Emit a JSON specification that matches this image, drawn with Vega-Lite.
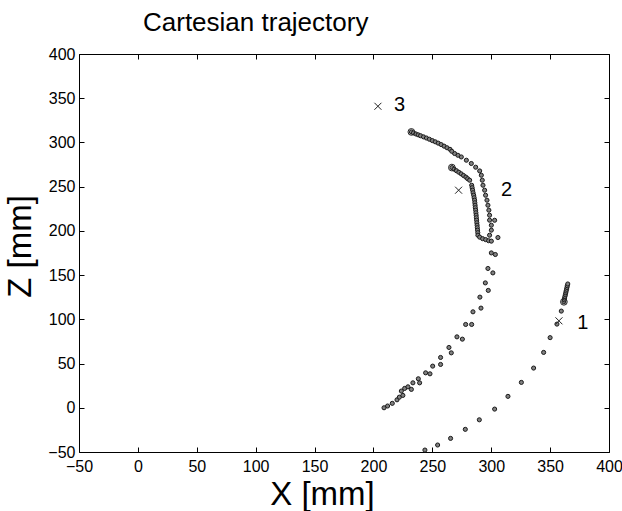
{
  "$schema": "https://vega.github.io/schema/vega-lite/v6.json",
  "width": 530,
  "height": 398,
  "autosize": {"type": "none"},
  "padding": {"left": 79, "top": 54, "right": 13, "bottom": 59},
  "background": "white",
  "config": {
    "view": {"stroke": "black", "strokeWidth": 1},
    "font": "Liberation Sans"
  },
  "title": {
    "text": "Cartesian trajectory",
    "fontSize": 26,
    "fontWeight": "normal",
    "font": "Liberation Sans",
    "color": "black",
    "anchor": "start",
    "frame": "group",
    "dx": 64,
    "offset": 10
  },
  "datasets": {
    "dots": [
      {"x": 243.7, "y": -47.8}, {"x": 254.5, "y": -42.1}, {"x": 265.5, "y": -34.6}, {"x": 278, "y": -24.4},
      {"x": 289.9, "y": -13.6}, {"x": 302.9, "y": -1.5}, {"x": 314.2, "y": 12.9}, {"x": 325.6, "y": 28.7},
      {"x": 336, "y": 44.9}, {"x": 344.5, "y": 62.6}, {"x": 350, "y": 79.3}, {"x": 355.8, "y": 94.6},
      {"x": 359.5, "y": 109.3}, {"x": 361.7, "y": 119.8}, {"x": 362, "y": 122}, {"x": 362.3, "y": 124},
      {"x": 362.6, "y": 126}, {"x": 363, "y": 128}, {"x": 363.3, "y": 130}, {"x": 363.6, "y": 132},
      {"x": 364, "y": 134}, {"x": 364.3, "y": 136}, {"x": 364.6, "y": 138}, {"x": 365, "y": 140},
      {"x": 209, "y": 0}, {"x": 212, "y": 2}, {"x": 216, "y": 5}, {"x": 220, "y": 9}, {"x": 222, "y": 12},
      {"x": 225, "y": 14}, {"x": 223.7, "y": 18.9}, {"x": 226.5, "y": 21.9}, {"x": 229.3, "y": 23.7},
      {"x": 232.2, "y": 20.8}, {"x": 233.5, "y": 28.2}, {"x": 238.1, "y": 32.8}, {"x": 239.2, "y": 28.2},
      {"x": 244.3, "y": 39.5}, {"x": 248, "y": 38.4}, {"x": 250.3, "y": 47.1}, {"x": 257, "y": 49},
      {"x": 257, "y": 56.9}, {"x": 266.1, "y": 62.1}, {"x": 264.1, "y": 68.2}, {"x": 270.9, "y": 80.2},
      {"x": 275.5, "y": 77.6}, {"x": 278.3, "y": 94.2}, {"x": 283.4, "y": 94.2}, {"x": 284.5, "y": 108.5},
      {"x": 291.3, "y": 112.7}, {"x": 290.4, "y": 125.1}, {"x": 297.5, "y": 132.7}, {"x": 295, "y": 141.2},
      {"x": 301.4, "y": 152.5}, {"x": 297.2, "y": 157.5}, {"x": 303.5, "y": 173.3}, {"x": 300.1, "y": 175.1},
      {"x": 266.6, "y": 271.6}, {"x": 268.5, "y": 269.8}, {"x": 270.5, "y": 268}, {"x": 272.5, "y": 266.3},
      {"x": 274.5, "y": 264.5}, {"x": 276.5, "y": 262.6}, {"x": 278.5, "y": 260.8}, {"x": 280, "y": 259},
      {"x": 281.7, "y": 257.3}, {"x": 283.4, "y": 251.6}, {"x": 283.8, "y": 248.8}, {"x": 284.2, "y": 246},
      {"x": 284.6, "y": 243.1}, {"x": 285.1, "y": 240.3}, {"x": 285.5, "y": 237.5}, {"x": 285.9, "y": 234.7},
      {"x": 286.1, "y": 231.8}, {"x": 286.3, "y": 229}, {"x": 286.5, "y": 226.2}, {"x": 286.8, "y": 223.4},
      {"x": 287, "y": 220.5}, {"x": 287.2, "y": 217.7}, {"x": 287.4, "y": 214.9}, {"x": 287.6, "y": 212.1},
      {"x": 287.8, "y": 209.2}, {"x": 288, "y": 206.4}, {"x": 288.2, "y": 203.6}, {"x": 288.4, "y": 200.8},
      {"x": 288.6, "y": 198}, {"x": 288.7, "y": 195.1}, {"x": 290.2, "y": 192.9}, {"x": 292.7, "y": 191.2},
      {"x": 295.3, "y": 190.1}, {"x": 297.8, "y": 188.9}, {"x": 300.1, "y": 188.4},
      {"x": 298.6, "y": 195.1}, {"x": 300.1, "y": 200.8}, {"x": 300.1, "y": 206.4}, {"x": 298.6, "y": 212.1},
      {"x": 298.6, "y": 217.7}, {"x": 298, "y": 223.4}, {"x": 297.2, "y": 229}, {"x": 296.4, "y": 234.7},
      {"x": 295.2, "y": 240.3}, {"x": 294.4, "y": 246}, {"x": 293, "y": 251.6}, {"x": 292.4, "y": 257.3},
      {"x": 291.6, "y": 262.9}, {"x": 290.2, "y": 267.8}, {"x": 302.9, "y": 212}, {"x": 305.7, "y": 192.5},
      {"x": 286.8, "y": 272}, {"x": 283.1, "y": 276.2}, {"x": 278.9, "y": 279.9}, {"x": 274.6, "y": 283.6},
      {"x": 271.7, "y": 285.5}, {"x": 268.9, "y": 287.5},
      {"x": 232.2, "y": 311.9}, {"x": 234, "y": 310.8}, {"x": 236, "y": 309.6}, {"x": 238, "y": 308.6},
      {"x": 240, "y": 307.6}, {"x": 242.5, "y": 306.3}, {"x": 245, "y": 305}, {"x": 247.5, "y": 303.6},
      {"x": 250, "y": 302.1}, {"x": 252.5, "y": 300.7}, {"x": 255, "y": 299.2}, {"x": 257.5, "y": 297.6},
      {"x": 260, "y": 295.8}, {"x": 262.5, "y": 294}, {"x": 265, "y": 292.2}, {"x": 266.5, "y": 290}
    ],
    "starts": [
      {"x": 232.2, "y": 311.9}, {"x": 266.6, "y": 271.6}, {"x": 361.7, "y": 119.8}
    ],
    "targets": [
      {"x": 357.5, "y": 98.3, "lx": 377.8, "ly": 96, "label": "1"},
      {"x": 272.3, "y": 246, "lx": 313, "ly": 246, "label": "2"},
      {"x": 203.8, "y": 340.9, "lx": 222.2, "ly": 342, "label": "3"}
    ]
  },
  "resolve": {"axis": {"x": "independent", "y": "independent"}},
  "layer": [
    {
      "data": {"name": "dots"},
      "mark": {"type": "point", "shape": "circle", "filled": true, "fill": "#808080", "stroke": "#1a1a1a", "strokeWidth": 1, "size": 17, "opacity": 1},
      "encoding": {
        "x": {
          "field": "x", "type": "quantitative",
          "scale": {"domain": [-50, 400], "nice": false, "zero": false},
          "axis": {
            "orient": "bottom", "values": [-50, 0, 50, 100, 150, 200, 250, 300, 350, 400],
            "tickSize": -5, "tickColor": "black", "domain": false, "grid": false,
            "labelFontSize": 16, "labelColor": "black", "labelPadding": 11, "labelFlush": false, "labelOverlap": false,
            "title": "X [mm]", "titleFontSize": 33, "titleFontWeight": "normal", "titleColor": "black",
            "titleX": 243, "titleY": 52, "titleBaseline": "alphabetic", "titleAlign": "center"
          }
        },
        "y": {
          "field": "y", "type": "quantitative",
          "scale": {"domain": [-50, 400], "nice": false, "zero": false},
          "axis": {
            "orient": "left", "values": [-50, 0, 50, 100, 150, 200, 250, 300, 350, 400],
            "tickSize": -5, "tickColor": "black", "domain": false, "grid": false,
            "labelFontSize": 16, "labelColor": "black", "labelPadding": 9, "labelFlush": false, "labelOverlap": false,
            "title": "Z [mm]", "titleFontSize": 33, "titleFontWeight": "normal", "titleColor": "black",
            "titleX": -49, "titleY": 192, "titleAngle": -90, "titleBaseline": "alphabetic", "titleAlign": "center"
          }
        }
      }
    },
    {
      "data": {"name": "starts"},
      "mark": {"type": "point", "shape": "circle", "filled": false, "stroke": "#222222", "strokeWidth": 1, "size": 45, "opacity": 1},
      "encoding": {
        "x": {"field": "x", "type": "quantitative", "axis": null},
        "y": {"field": "y", "type": "quantitative", "axis": null}
      }
    },
    {
      "data": {"name": "targets"},
      "mark": {"type": "point", "shape": "M-1,-1L1,1M-1,1L1,-1", "filled": false, "stroke": "#222222", "strokeWidth": 1, "size": 49, "opacity": 1},
      "encoding": {
        "x": {
          "field": "x", "type": "quantitative",
          "axis": {"orient": "top", "values": [-50, 0, 50, 100, 150, 200, 250, 300, 350, 400], "tickSize": -5, "tickColor": "black", "labels": false, "domain": false, "grid": false, "title": null}
        },
        "y": {
          "field": "y", "type": "quantitative",
          "axis": {"orient": "right", "values": [-50, 0, 50, 100, 150, 200, 250, 300, 350, 400], "tickSize": -5, "tickColor": "black", "labels": false, "domain": false, "grid": false, "title": null}
        }
      }
    },
    {
      "data": {"name": "targets"},
      "mark": {"type": "text", "fontSize": 20, "font": "Liberation Sans", "color": "black", "align": "center", "baseline": "middle"},
      "encoding": {
        "x": {"field": "lx", "type": "quantitative", "axis": null},
        "y": {"field": "ly", "type": "quantitative", "axis": null},
        "text": {"field": "label"}
      }
    }
  ]
}
